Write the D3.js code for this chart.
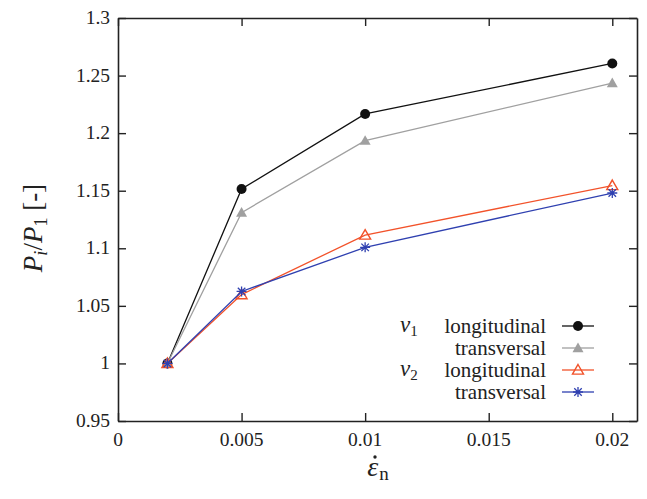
<!DOCTYPE html>
<html>
<head>
<meta charset="utf-8">
<script src="https://cdn.jsdelivr.net/npm/d3@7"></script>
</head>
<body style="margin:0">
<main></main>
<script>
// strain rates (x) and normalised loads for each series
const strainRates = [0.002, 0.005, 0.01, 0.02];
const v1Longitudinal = [1.0, 1.1515, 1.2167, 1.2605];
const v1Transversal = [1.0, 1.131, 1.1935, 1.2435];
const v2Longitudinal = [1.0, 1.0598, 1.1115, 1.1545];
const v2Transversal = [1.0, 1.0625, 1.1008, 1.148];

const xTicks = [0, 0.005, 0.01, 0.015, 0.02];
const yTicks = [0.95, 1, 1.05, 1.1, 1.15, 1.2, 1.25, 1.3];

const width = 647;
const height = 499;
const margin = { top: 18, right: 10, bottom: 78, left: 118 };
const serif = 'Liberation Serif';

const series = [
  { name: 'longitudinal', tag: 'v', sub: '1', values: v1Longitudinal, color: '#111111', marker: 'circle' },
  { name: 'transversal', tag: null, values: v1Transversal, color: '#a0a0a0', marker: 'triangleFilled' },
  { name: 'longitudinal', tag: 'v', sub: '2', values: v2Longitudinal, color: '#f2522a', marker: 'triangleOpen' },
  { name: 'transversal', tag: null, values: v2Transversal, color: '#2f40b0', marker: 'asterisk' }
];

const svg = d3.select('main').append('svg')
    .attr('width', width)
    .attr('height', height)
    .attr('font-family', serif);

const x = d3.scaleLinear()
    .domain([0, 0.021])
    .range([margin.left, width - margin.right]);

const y = d3.scaleLinear()
    .domain([0.95, 1.3])
    .range([height - margin.bottom, margin.top]);

const tickLen = 8;
const fmt = d => String(+d.toFixed(4));

// axes: ticks inside on all four sides (labels drawn separately below)
svg.append('g')
    .attr('transform', `translate(0,${y(0.95)})`)
    .call(d3.axisBottom(x).tickValues(xTicks).tickFormat('').tickSizeInner(-tickLen).tickSizeOuter(0));

svg.append('g')
    .attr('transform', `translate(0,${y(1.3)})`)
    .call(d3.axisTop(x).tickValues(xTicks).tickFormat('').tickSizeInner(-tickLen).tickSizeOuter(0));

svg.append('g')
    .attr('transform', `translate(${x(0)},0)`)
    .call(d3.axisLeft(y).tickValues(yTicks).tickFormat('').tickSizeInner(-tickLen).tickSizeOuter(0));

svg.append('g')
    .attr('transform', `translate(${x(0.021)},0)`)
    .call(d3.axisRight(y).tickValues(yTicks).tickFormat('').tickSizeInner(-tickLen).tickSizeOuter(0));

svg.selectAll('.domain').attr('stroke', '#222').attr('stroke-width', 1.6);
svg.selectAll('.tick line').attr('stroke', '#222').attr('stroke-width', 1.4);
svg.selectAll('.tick text').remove();

// tick labels
svg.selectAll('text.xtick')
    .data(xTicks)
    .enter().append('text')
    .attr('class', 'xtick')
    .attr('x', d => x(d))
    .attr('y', y(0.95) + 25)
    .attr('text-anchor', 'middle')
    .attr('font-family', serif)
    .attr('font-size', 19.5)
    .attr('fill', '#222')
    .text(fmt);

svg.selectAll('text.ytick')
    .data(yTicks)
    .enter().append('text')
    .attr('class', 'ytick')
    .attr('x', x(0) - 8)
    .attr('y', d => y(d) + 6)
    .attr('text-anchor', 'end')
    .attr('font-family', serif)
    .attr('font-size', 19.5)
    .attr('fill', '#222')
    .text(fmt);

// markers
function drawMarker(g, type, color, cx, cy) {
  if (type === 'circle') {
    g.append('circle').attr('cx', cx).attr('cy', cy).attr('r', 5).attr('fill', color);
  } else if (type === 'triangleFilled' || type === 'triangleOpen') {
    const s = 5.5;
    g.append('path')
        .attr('d', `M${cx},${cy - s}L${cx + s},${cy + s * 0.75}L${cx - s},${cy + s * 0.75}Z`)
        .attr('fill', type === 'triangleFilled' ? color : 'none')
        .attr('stroke', type === 'triangleOpen' ? color : 'none')
        .attr('stroke-width', 1.4);
  } else {
    const s = 5;
    g.append('path')
        .attr('d', `M${cx - s},${cy}H${cx + s}M${cx},${cy - s}V${cy + s}` +
          `M${cx - s * 0.75},${cy - s * 0.75}L${cx + s * 0.75},${cy + s * 0.75}` +
          `M${cx - s * 0.75},${cy + s * 0.75}L${cx + s * 0.75},${cy - s * 0.75}`)
        .attr('stroke', color)
        .attr('stroke-width', 1.3)
        .attr('fill', 'none');
  }
}

const line = d3.line()
    .x((d, i) => x(strainRates[i]))
    .y(d => y(d));

series.forEach(s => {
  const g = svg.append('g');
  g.append('path')
      .datum(s.values)
      .attr('d', line)
      .attr('fill', 'none')
      .attr('stroke', s.color)
      .attr('stroke-width', 1.3);
  s.values.forEach((v, i) => drawMarker(g, s.marker, s.color, x(strainRates[i]), y(v)));
});

// legend (texts kept directly under the svg)
series.forEach((s, i) => {
  const ly = 326 + i * 22;
  svg.append('line')
      .attr('x1', 562).attr('x2', 594)
      .attr('y1', ly).attr('y2', ly)
      .attr('stroke', s.color)
      .attr('stroke-width', 1.3);
  drawMarker(svg, s.marker, s.color, 578, ly);

  svg.append('text')
      .attr('x', 546)
      .attr('y', ly + 7)
      .attr('text-anchor', 'end')
      .attr('font-family', serif)
      .attr('font-size', 21)
      .attr('fill', '#222')
      .text(s.name);

  if (s.tag) {
    const t = svg.append('text')
        .attr('x', 400)
        .attr('y', ly + 6)
        .attr('font-family', serif)
        .attr('font-size', 23)
        .attr('fill', '#222');
    t.append('tspan').attr('font-style', 'italic').text(s.tag);
    t.append('tspan').attr('font-size', 15).attr('dy', 4).text(s.sub);
  }
});

// axis titles
const yLabel = svg.append('text')
    .attr('transform', `translate(42,228) rotate(-90)`)
    .attr('text-anchor', 'middle')
    .attr('font-family', serif)
    .attr('font-size', 27)
    .attr('fill', '#222');
yLabel.append('tspan').attr('font-style', 'italic').text('P');
yLabel.append('tspan').attr('font-style', 'italic').attr('font-size', 18).attr('dy', 5).text('i');
yLabel.append('tspan').attr('dy', -5).text('/');
yLabel.append('tspan').attr('font-style', 'italic').text('P');
yLabel.append('tspan').attr('font-size', 18).attr('dy', 5).text('1');
yLabel.append('tspan').attr('dy', -5).text(' [-]');

const xLabel = svg.append('text')
    .attr('x', 378)
    .attr('y', 476)
    .attr('text-anchor', 'middle')
    .attr('font-family', serif)
    .attr('font-size', 28)
    .attr('fill', '#222');
xLabel.append('tspan').attr('font-style', 'italic').text('\u03B5');
xLabel.append('tspan').attr('font-size', 19).attr('dx', 1).attr('dy', 4).text('n');
// dot accent above epsilon
svg.append('circle')
    .attr('cx', 375)
    .attr('cy', 457)
    .attr('r', 1.7)
    .attr('fill', '#222');
</script>
</body>
</html>
